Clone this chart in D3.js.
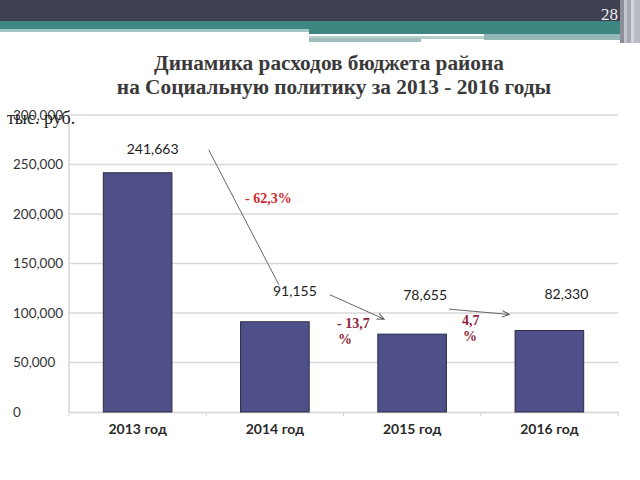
<!DOCTYPE html>
<html>
<head>
<meta charset="utf-8">
<script src="https://cdn.jsdelivr.net/npm/d3@7"></script>
<style>
  html, body { margin: 0; padding: 0; background: #fff; }
  svg { display: block; }
</style>
</head>
<body>
<div id="chart"></div>
<script>
// данные
const years = ['2013 год', '2014 год', '2015 год', '2016 год'];
const values = [241663, 91155, 78655, 82330];
const yTicks = [0, 50000, 100000, 150000, 200000, 250000, 300000];
const changes = [['- 62,3%'], ['- 13,7', '%'], ['4,7', '%']];

const width = 640, height = 480;
const margin = { top: 115, right: 22, bottom: 68, left: 69 };
const cWidth = width - margin.left - margin.right;
const cHeight = height - margin.top - margin.bottom;

const svg = d3.select('#chart').append('svg')
  .attr('width', width).attr('height', height);

// шапка слайда
const head = svg.append('g');
head.append('rect').attr('x', 0).attr('y', 0).attr('width', 640).attr('height', 21).attr('fill', '#3f4153');
head.append('rect').attr('x', 0).attr('y', 21).attr('width', 640).attr('height', 8).attr('fill', '#3e8681');
head.append('rect').attr('x', 0).attr('y', 29).attr('width', 310).attr('height', 3).attr('fill', '#9fc6c3');
head.append('rect').attr('x', 309).attr('y', 29).attr('width', 311).attr('height', 5).attr('fill', '#3e8681');
head.append('rect').attr('x', 309).attr('y', 36).attr('width', 175).attr('height', 3).attr('fill', '#b3cfcd');
head.append('rect').attr('x', 309).attr('y', 38).attr('width', 112).attr('height', 4).attr('fill', '#a3bdbd');
head.append('rect').attr('x', 484).attr('y', 34).attr('width', 136).attr('height', 6).attr('fill', '#93b8b5');
[[620, 4, '#8c8f9a'], [624, 3, '#c4c7cc'], [627, 4, '#a4a8b0'], [631, 3, '#d3d5d8'], [634, 6, '#b8bcc2']].forEach(s => {
  head.append('rect').attr('x', s[0]).attr('y', 0).attr('width', s[1]).attr('height', 43).attr('fill', s[2]);
});
head.append('text').attr('x', 618).attr('y', 20).attr('text-anchor', 'end')
  .attr('font-family', 'Liberation Serif').attr('font-size', 17).attr('fill', '#eeeeee').text('28');

// заголовок
const title = svg.append('g').attr('font-family', 'Liberation Serif').attr('font-weight', 'bold')
  .attr('font-size', 21.3).attr('fill', '#3a3a3a').attr('text-anchor', 'middle');
title.append('text').attr('x', 329).attr('y', 70).text('Динамика расходов бюджета района');
title.append('text').attr('x', 334).attr('y', 94).text('на Социальную политику за 2013 - 2016 годы');

const g = svg.append('g').attr('transform', `translate(${margin.left},${margin.top})`);

const x = d3.scaleBand().domain(years).range([0, cWidth]).paddingInner(0.5).paddingOuter(0.25);
const y = d3.scaleLinear().domain([0, 300000]).range([cHeight, 0]);

// сетка
g.append('g').selectAll('line').data(yTicks.slice(1)).join('line')
  .attr('x1', 0).attr('x2', cWidth)
  .attr('y1', d => y(d)).attr('y2', d => y(d))
  .attr('stroke', '#d9d9d9').attr('stroke-width', 1.5);

// ось y
g.append('line').attr('x1', 0).attr('x2', 0).attr('y1', 0).attr('y2', cHeight)
  .attr('stroke', '#d4d4d4').attr('stroke-width', 1.5);
svg.append('g').selectAll('text').data(yTicks).join('text')
  .attr('x', 13).attr('y', d => margin.top + y(d)).attr('dy', '0.36em')
  .attr('font-family', 'Lato').attr('font-size', 13.5).attr('fill', '#333')
  .text(d => d3.format(',')(d));

// ось x
const xAxis = g.append('g').attr('transform', `translate(0,${cHeight})`)
  .call(d3.axisBottom(x).tickSize(0).tickPadding(12));
xAxis.select('.domain').attr('stroke', '#d4d4d4').attr('stroke-width', 1.5);
xAxis.selectAll('text').attr('font-family', 'Lato').attr('font-weight', 'bold')
  .attr('font-size', 14).attr('fill', '#2a2a2a');
const step = x.step();
g.append('g').selectAll('line').data(d3.range(years.length + 1)).join('line')
  .attr('x1', i => i * step).attr('x2', i => i * step)
  .attr('y1', cHeight).attr('y2', cHeight + 4)
  .attr('stroke', '#d4d4d4').attr('stroke-width', 1);

// столбцы
g.append('g').selectAll('rect').data(values).join('rect')
  .attr('x', (d, i) => x(years[i]))
  .attr('y', d => y(d))
  .attr('width', x.bandwidth())
  .attr('height', d => cHeight - y(d))
  .attr('fill', '#4f5089')
  .attr('stroke', '#2c2c48').attr('stroke-width', 1);

// подписи значений (сдвинуты вручную, как на слайде)
const labelShift = [[15, -24], [20, -31], [13, -39], [17, -36]];
g.append('g').selectAll('text').data(values).join('text')
  .attr('x', (d, i) => x(years[i]) + x.bandwidth() / 2 + labelShift[i][0])
  .attr('y', (d, i) => y(d) + labelShift[i][1])
  .attr('text-anchor', 'middle').attr('dy', '0.35em')
  .attr('font-family', 'Lato').attr('font-size', 14).attr('fill', '#222')
  .text(d => d3.format(',')(d));

// стрелки изменений
svg.append('defs').append('marker').attr('id', 'arr')
  .attr('viewBox', '0 0 10 10').attr('refX', 9).attr('refY', 5)
  .attr('markerWidth', 8).attr('markerHeight', 8).attr('orient', 'auto')
  .append('path').attr('d', 'M0,1 L9,5 L0,9').attr('fill', 'none').attr('stroke', '#555').attr('stroke-width', 1.3);

const cx = i => x(years[i]) + x.bandwidth() / 2;
const arrows = [
  { from: [cx(0) + 71, y(values[0]) - 23], to: [cx(1) + 4, y(values[1]) - 37], head: false },
  { from: [cx(1) + 55, y(values[1]) - 27], to: [cx(2) - 28, y(values[2]) - 15], head: true },
  { from: [cx(2) + 37, y(values[2]) - 25], to: [cx(3) - 40, y(values[3]) - 16], head: true }
];
g.append('g').selectAll('line').data(arrows).join('line')
  .attr('x1', d => d.from[0]).attr('y1', d => d.from[1])
  .attr('x2', d => d.to[0]).attr('y2', d => d.to[1])
  .attr('stroke', '#666').attr('stroke-width', 1)
  .attr('marker-end', d => d.head ? 'url(#arr)' : null);

// проценты
const pctPos = [[176, 88, '#d02a2f'], [268, 213, '#8e1f3c'], [393, 210, '#8e1f3c']];
changes.forEach((lines, i) => {
  const t = g.append('text').attr('x', pctPos[i][0]).attr('y', pctPos[i][1])
    .attr('font-family', 'Liberation Serif').attr('font-weight', 'bold')
    .attr('font-size', 14).attr('fill', pctPos[i][2]);
  lines.forEach((s, j) => {
    t.append('tspan').attr('x', pctPos[i][0] + (j > 0 ? 1 : 0)).attr('dy', j ? 16 : 0).text(s);
  });
});

// единицы
svg.append('text').attr('x', 7).attr('y', 124)
  .attr('font-family', 'Liberation Serif').attr('font-size', 18).attr('fill', '#222')
  .text('тыс. руб.');
</script>
</body>
</html>
